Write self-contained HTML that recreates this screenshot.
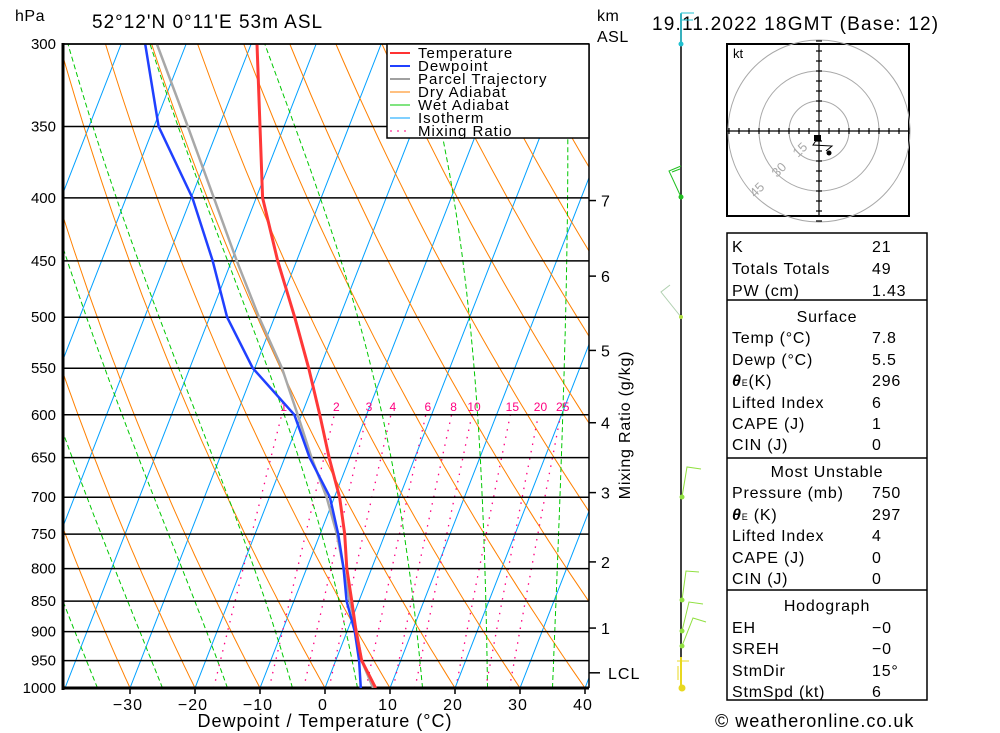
<!DOCTYPE html>
<html><head><meta charset="utf-8"><style>
html,body{margin:0;padding:0;background:#fff;}
svg{display:block;font-family:"Liberation Sans",sans-serif;}
.t{font-size:16px;fill:#000;letter-spacing:0.5px;}
</style></head><body>
<svg id="chart" width="1000" height="733" viewBox="0 0 1000 733" xmlns="http://www.w3.org/2000/svg">
<defs><clipPath id="plotclip"><rect x="63" y="44" width="526" height="644"/></clipPath></defs>
<g id="bg" clip-path="url(#plotclip)"></g>
<g id="grid"></g>
<g id="traces" clip-path="url(#plotclip)"></g>
<g id="axes"></g>

<text x="15" y="21" class="t">hPa</text>
<text x="92" y="28" font-size="19" letter-spacing="1">52°12'N  0°11'E  53m  ASL</text>
<text x="652" y="30" font-size="19" letter-spacing="1.2">19.11.2022  18GMT  (Base: 12)</text>
<text x="597" y="21" class="t">km</text>
<text x="597" y="42" class="t">ASL</text>
<text x="325" y="727" text-anchor="middle" font-size="18" letter-spacing="1">Dewpoint / Temperature (°C)</text>
<text x="0" y="0" transform="translate(630,425) rotate(-90)" text-anchor="middle" font-size="16" letter-spacing="0.8">Mixing Ratio (g/kg)</text>
<text x="715" y="727" font-size="18" letter-spacing="1">© weatheronline.co.uk</text>

<g>
<rect x="387" y="44" width="202" height="94" fill="#fff" stroke="#000" stroke-width="1.5"/>
<g font-size="15" letter-spacing="1">
<line x1="390" y1="53" x2="410" y2="53" stroke="#ff3333" stroke-width="2"/><text x="418" y="58">Temperature</text>
<line x1="390" y1="66" x2="410" y2="66" stroke="#2040ff" stroke-width="2"/><text x="418" y="71">Dewpoint</text>
<line x1="390" y1="79" x2="410" y2="79" stroke="#a0a0a0" stroke-width="2"/><text x="418" y="84">Parcel Trajectory</text>
<line x1="390" y1="92" x2="410" y2="92" stroke="#ff8000" stroke-width="1"/><text x="418" y="97">Dry Adiabat</text>
<line x1="390" y1="105" x2="410" y2="105" stroke="#00c800" stroke-width="1"/><text x="418" y="110">Wet Adiabat</text>
<line x1="390" y1="118" x2="410" y2="118" stroke="#00a0ff" stroke-width="1"/><text x="418" y="123">Isotherm</text>
<line x1="390" y1="131" x2="410" y2="131" stroke="#ff0080" stroke-width="1" stroke-dasharray="2,5"/><text x="418" y="136">Mixing Ratio</text>
</g></g>

<g fill="none">
<line x1="681" y1="14" x2="681" y2="688" stroke="#000" stroke-width="1.5"/>
<line x1="681" y1="13" x2="681" y2="44" stroke="#20c0d0" stroke-width="1.5"/>
<line x1="681" y1="13" x2="694" y2="13" stroke="#20c0d0"/><line x1="681" y1="20" x2="693" y2="20" stroke="#20c0d0"/>
<circle cx="681" cy="44" r="2.5" fill="#20c0d0"/>
<polyline points="681,197 669,171 681,166" stroke="#20c020"/><line x1="672" y1="172" x2="680" y2="169" stroke="#20c020"/>
<circle cx="681" cy="197" r="2.5" fill="#20c020"/>
<polyline points="681,317 661,292 670,285" stroke="#b0d0b0"/>
<circle cx="681" cy="317" r="2" fill="#b0e040"/>
<polyline points="682,497 687,467 701,469" stroke="#90e040"/><circle cx="682" cy="497" r="2.5" fill="#90e040"/>
<polyline points="682,600 686,571 699,572" stroke="#90e040"/><circle cx="682" cy="600" r="2.5" fill="#90e040"/>
<polyline points="682,631 689,602 703,604" stroke="#90e040"/><circle cx="682" cy="631" r="2.5" fill="#90e040"/>
<polyline points="682,646 693,618 706,622" stroke="#90e040"/><circle cx="682" cy="646" r="2.5" fill="#90e040"/>
<line x1="681" y1="657" x2="681" y2="688" stroke="#e8d820" stroke-width="2"/>
<line x1="677" y1="661" x2="689" y2="661" stroke="#e8d820"/><line x1="678" y1="666" x2="678" y2="680" stroke="#e8d820"/>
<circle cx="682" cy="688" r="3.5" fill="#e8d820"/>
</g>

<g>
<rect x="727" y="44" width="182" height="172" fill="#fff" stroke="#000" stroke-width="2"/>
<g fill="none" stroke="#a8a8a8" stroke-width="1">
<circle cx="819" cy="131" r="30"/><circle cx="819" cy="131" r="60"/><circle cx="819" cy="131" r="91"/>
</g>
<g id="hodoaxes" stroke="#000" stroke-width="1.2"></g>
<text x="733" y="58" font-size="13">kt</text>
<g fill="#a8a8a8" font-size="13">
<text transform="translate(798,158) rotate(-45)">15</text>
<text transform="translate(777,178) rotate(-45)">30</text>
<text transform="translate(755,198) rotate(-45)">45</text>
</g>
<rect x="814" y="135" width="7" height="6" fill="#000"/>
<polyline points="817,139 813,145 832,146 826,151" fill="none" stroke="#000"/>
<circle cx="829" cy="153" r="2.5" fill="#000"/>
</g>

<g font-size="16" letter-spacing="0.8">
<rect x="727" y="233" width="200" height="467" fill="none" stroke="#000" stroke-width="1.5"/>
<line x1="727" y1="300" x2="927" y2="300" stroke="#000" stroke-width="1.5"/>
<line x1="727" y1="458" x2="927" y2="458" stroke="#000" stroke-width="1.5"/>
<line x1="727" y1="590" x2="927" y2="590" stroke="#000" stroke-width="1.5"/>
<text x="732" y="252">K</text><text x="872" y="252">21</text>
<text x="732" y="274">Totals Totals</text><text x="872" y="274">49</text>
<text x="732" y="296">PW (cm)</text><text x="872" y="296">1.43</text>
<text x="827" y="322" text-anchor="middle">Surface</text>
<text x="732" y="343">Temp (°C)</text><text x="872" y="343">7.8</text>
<text x="732" y="365">Dewp (°C)</text><text x="872" y="365">5.5</text>
<text x="732" y="386"><tspan font-style="italic" font-weight="bold">θ</tspan><tspan font-size="9">E</tspan>(K)</text><text x="872" y="386">296</text>
<text x="732" y="408">Lifted Index</text><text x="872" y="408">6</text>
<text x="732" y="429">CAPE (J)</text><text x="872" y="429">1</text>
<text x="732" y="450">CIN (J)</text><text x="872" y="450">0</text>
<text x="827" y="477" text-anchor="middle">Most Unstable</text>
<text x="732" y="498">Pressure (mb)</text><text x="872" y="498">750</text>
<text x="732" y="520"><tspan font-style="italic" font-weight="bold">θ</tspan><tspan font-size="9">E</tspan> (K)</text><text x="872" y="520">297</text>
<text x="732" y="541">Lifted Index</text><text x="872" y="541">4</text>
<text x="732" y="563">CAPE (J)</text><text x="872" y="563">0</text>
<text x="732" y="584">CIN (J)</text><text x="872" y="584">0</text>
<text x="827" y="611" text-anchor="middle">Hodograph</text>
<text x="732" y="633">EH</text><text x="872" y="633">−0</text>
<text x="732" y="654">SREH</text><text x="872" y="654">−0</text>
<text x="732" y="676">StmDir</text><text x="872" y="676">15°</text>
<text x="732" y="697">StmSpd (kt)</text><text x="872" y="697">6</text>
</g>
</svg>
<script>
const pressures=[300,350,400,450,500,550,600,650,700,750,800,850,900,950,1000];
const tempC=[-49.1,-43.7,-39.0,-32.9,-26.9,-21.7,-17.2,-13.2,-9.2,-6.2,-3.8,-1.1,1.4,4.0,7.8];
const dewLevels=[300,350,400,450,500,550,562,600,650,700,750,800,850,900,950,1000];
const dewC=[-66.3,-59.3,-49.8,-42.9,-37.3,-30.3,-28.0,-21.1,-16.2,-10.7,-7.2,-4.3,-1.9,1.2,3.6,5.5];
const parcelC=[-64.5,-54.8,-46.5,-39.2,-32.4,-25.8,-20.6,-15.9,-11.2,-7.4,-4.3,-1.4,1.5,4.0,7.4];
const xTicks=[-30,-20,-10,0,10,20,30,40];
const pLabels=[300,350,400,450,500,550,600,650,700,750,800,850,900,950,1000];
const kmLevels=[1,2,3,4,5,6,7];
const kmPressure=[894,790,694,609,532,463,402];
const mixRatios=[1,2,3,4,6,8,10,15,20,25];
const isotherms=[];for(let t=-120;t<=40;t+=10)isotherms.push(t);
const dryThetaC=[];for(let t=-60;t<=200;t+=10)dryThetaC.push(t);
const wetStartC=[-45,-35,-25,-15,-5,5,15,25,35];
const lclP=972;

const NS="http://www.w3.org/2000/svg";
const LN=Math.log(1000/300);
function yOf(p){return 44+644*Math.log(p/300)/LN;}
function xOf(T,p){return 325+6.5*T+0.39*(688-yOf(p));}
function mk(tag,attrs,parent){const e=document.createElementNS(NS,tag);for(const k in attrs)e.setAttribute(k,attrs[k]);parent.appendChild(e);return e;}
function pathFrom(pts){return pts.map((q,i)=>(i?'L':'M')+q[0].toFixed(1)+','+q[1].toFixed(1)).join(' ');}
const bg=document.getElementById('bg'),grid=document.getElementById('grid'),tr=document.getElementById('traces'),ax=document.getElementById('axes');

isotherms.forEach(t=>{
  const e=mk('line',{x1:xOf(t,1000),y1:yOf(1000),x2:xOf(t,300),y2:yOf(300),stroke:'#00a0ff','stroke-width':1},bg);
  
  
});
dryThetaC.forEach(th=>{
  const pts=[];for(let p=1000;p>=300;p-=10){pts.push([xOf((th+273.15)*Math.pow(p/1000,0.2857)-273.15,p),yOf(p)]);}
  const e=mk('path',{d:pathFrom(pts),fill:'none',stroke:'#ff8000','stroke-width':1},bg);
  
  
});
function es(tc){return 6.112*Math.exp(17.67*tc/(tc+243.5));}
wetStartC.forEach(t0=>{
  let T=t0+273.15;const pts=[];
  for(let p=1000;p>=300;p-=5){
    pts.push([xOf(T-273.15,p),yOf(p)]);
    const e=es(T-273.15),rs=0.622*e/(p-e);
    const g=(287*T+2.5e6*rs)/(1005+2.5e6*2.5e6*rs*0.622/(287*T*T));
    T-=g*Math.log(p/(p-5));
  }
  const e=mk('path',{d:pathFrom(pts),fill:'none',stroke:'#00c800','stroke-width':1,'stroke-dasharray':'5,3'},bg);
  
  
});
function tdFromW(w,p){const e=w*p/(622+w);const l=Math.log(e/6.112);return 243.5*l/(17.67-l);}
mixRatios.forEach(w=>{
  const pts=[];for(let p=1000;p>=600;p-=10)pts.push([xOf(tdFromW(w,p),p),yOf(p)]);
  const e=mk('path',{d:pathFrom(pts),fill:'none',stroke:'#ff0080','stroke-width':1.3,'stroke-dasharray':'1.5,6'},bg);
  
  
  const t=mk('text',{x:xOf(tdFromW(w,600),600)+2,y:yOf(600)-4,'text-anchor':'middle','font-size':12,fill:'#ff0080'},tr);
  t.textContent=w;
  
  
});
pLabels.forEach(p=>{
  const y=yOf(p);
  const l=mk('line',{x1:63,y1:y,x2:589,y2:y,stroke:'#000','stroke-width':p==1000?3:1.5},grid);
  
  
  const t=mk('text',{x:56,y:y+5,'text-anchor':'end','font-size':15},grid);
  t.textContent=p;
  
  
});
function trace(levels,vals,color,w,name){
  const pts=levels.map((p,i)=>[xOf(vals[i],p),yOf(p)]);
  const e=mk('path',{d:pathFrom(pts),fill:'none',stroke:color,'stroke-width':w,'stroke-linejoin':'round'},tr);
  
  
}
trace(pressures,parcelC,'#a8a8a8',2.5,'parcel-trajectory');
trace(dewLevels,dewC,'#2040ff',2.5,'dewpoint-line');
trace(pressures,tempC,'#ff3838',3,'temperature-line');
mk('line',{x1:63,y1:43,x2:63,y2:690,stroke:'#000','stroke-width':3},ax);
mk('line',{x1:62,y1:44,x2:589,y2:44,stroke:'#000','stroke-width':1.5},ax);
mk('line',{x1:589,y1:44,x2:589,y2:688,stroke:'#000','stroke-width':1.5},ax);
xTicks.forEach(t=>{
  const x=xOf(t,1000);
  mk('line',{x1:x,y1:688,x2:x,y2:694,stroke:'#000','stroke-width':1.5},ax);
  const e=mk('text',{x:x-2,y:710,'text-anchor':'middle','font-size':16,'letter-spacing':1},ax);
  e.textContent=t<0?'−'+(-t):t;
  
  
});
kmLevels.forEach((k,i)=>{
  const y=yOf(kmPressure[i]);
  mk('line',{x1:589,y1:y,x2:596,y2:y,stroke:'#000','stroke-width':1.5},ax);
  const e=mk('text',{x:601,y:y+6,'font-size':16},ax);
  e.textContent=k;
  
  
});
{const y=yOf(lclP);
 mk('line',{x1:589,y1:y,x2:600,y2:y,stroke:'#000','stroke-width':1.5},ax);
 const e=mk('text',{x:608,y:y+6,'font-size':16,'letter-spacing':1},ax);e.textContent='LCL';
 
 }
const ha=document.getElementById('hodoaxes');
mk('line',{x1:727,y1:131,x2:909,y2:131},ha);mk('line',{x1:819,y1:44,x2:819,y2:216},ha);
for(let d=-90;d<=90;d+=10){if(d==0)continue;
  mk('line',{x1:819+d,y1:128,x2:819+d,y2:134},ha);
  mk('line',{x1:816,y1:131+d,x2:822,y2:131+d},ha);}
</script>
</body></html>
